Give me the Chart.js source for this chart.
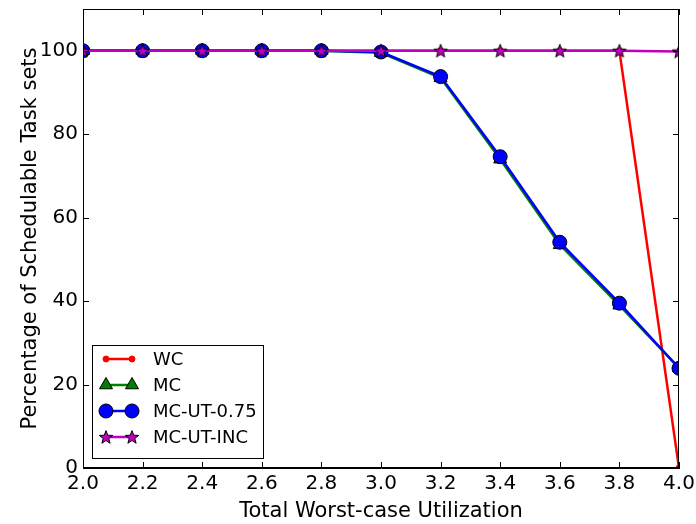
<!DOCTYPE html>
<html>
<head>
<meta charset="utf-8">
<script src="https://cdn.jsdelivr.net/npm/chart.js@4"></script>
<style>
html,body{margin:0;padding:0;background:#fff}
#wrap{width:696px;height:524px}
</style>
</head>
<body>
<div id="wrap"><canvas id="schedChart" width="696" height="524"></canvas></div>
<script>
// utilization values on the x axis
const utilization = [2.0, 2.2, 2.4, 2.6, 2.8, 3.0, 3.2, 3.4, 3.6, 3.8, 4.0]

// percentage of schedulable task sets
const wcData    = [100, 100, 100, 100, 100, 100, 100, 100, 100, 100, 0]
const mcData    = [100, 100, 100, 100, 100, 99.5, 93.5, 74.0, 53.5, 39.0, 24.0]
const mcUt75    = [100, 100, 100, 100, 100, 99.7, 93.8, 74.6, 54.1, 39.5, 23.9]
const mcUtInc   = [100, 100, 100, 100, 100, 100, 100, 100, 100, 100, 99.8]

const xTicks = [2.0, 2.2, 2.4, 2.6, 2.8, 3.0, 3.2, 3.4, 3.6, 3.8, 4.0]
const yTicks = [0, 20, 40, 60, 80, 100]

const FONT = 'DejaVu Sans'

// five pointed star marker (chart.js 'star' is not filled)
function makeStar(size, fill){
const c = document.createElement('canvas')
c.width = size
c.height = size
const g = c.getContext('2d')
const cx = size/2, cy = size/2 + 0.6
const ro = size/2 - 1, ri = ro*0.42
g.beginPath()
for(let i=0;i<10;i++){
const r = i%2 ? ri : ro
const a = -Math.PI/2 + i*Math.PI/5
g.lineTo(cx + r*Math.cos(a), cy + r*Math.sin(a))
}
g.closePath()
g.fillStyle = fill
g.fill()
g.lineWidth = 1
g.strokeStyle = '#000'
g.stroke()
return c
}
const star = makeStar(16, '#bf00bf')

const pts = arr => arr.map((v,i)=>({x:utilization[i], y:v}))

const series = [
{label:'WC', data:pts(wcData), borderColor:'#ff0000', backgroundColor:'#ff0000',
 pointStyle:'circle', pointRadius:3, pointBorderColor:'#ff0000', order:4},
{label:'MC', data:pts(mcData), borderColor:'#008000', backgroundColor:'#008000',
 pointStyle:'triangle', pointRadius:7.5, pointBorderColor:'#000', order:3},
{label:'MC-UT-0.75', data:pts(mcUt75), borderColor:'#0000ff', backgroundColor:'#0000ff',
 pointStyle:'circle', pointRadius:7, pointBorderColor:'#000', order:2},
{label:'MC-UT-INC', data:pts(mcUtInc), borderColor:'#bf00bf', backgroundColor:'#bf00bf',
 pointStyle:star, pointRadius:8, pointBorderColor:'#000', order:1}
]

// frame + inward ticks on all four sides, legend box inside plot
const framePlugin = {
id:'frame',
afterDraw(chart){
const {ctx, chartArea:a, scales} = chart
const L = 6
ctx.save()
ctx.strokeStyle = '#000'
ctx.lineWidth = 1
ctx.strokeRect(a.left+0.5, a.top+0.5, a.right-a.left-1, a.bottom-a.top-1)
ctx.beginPath()
xTicks.forEach(v=>{
const x = Math.round(scales.x.getPixelForValue(v))+0.5
ctx.moveTo(x, a.bottom); ctx.lineTo(x, a.bottom-L)
ctx.moveTo(x, a.top); ctx.lineTo(x, a.top+L)
})
yTicks.forEach(v=>{
const y = Math.round(scales.y.getPixelForValue(v))+0.5
ctx.moveTo(a.left, y); ctx.lineTo(a.left+L, y)
ctx.moveTo(a.right, y); ctx.lineTo(a.right-L, y)
})
ctx.stroke()

// legend
const bx = a.left+9, by = 345, bw = 171, bh = 113
ctx.fillStyle = '#fff'
ctx.fillRect(bx, by, bw, bh)
ctx.strokeRect(bx+0.5, by+0.5, bw, bh)
ctx.font = '18px ' + FONT
ctx.textBaseline = 'middle'
series.forEach((s,i)=>{
const y = by + 14 + i*26
const x1 = bx + 14, x2 = bx + 40
ctx.strokeStyle = s.borderColor
ctx.lineWidth = 2.5
ctx.beginPath(); ctx.moveTo(x1,y); ctx.lineTo(x2,y); ctx.stroke()
const opt = {pointStyle:s.pointStyle, radius:s.pointRadius, borderWidth:1, rotation:0}
ctx.fillStyle = s.backgroundColor
ctx.strokeStyle = s.pointBorderColor
ctx.lineWidth = 1
Chart.helpers.drawPoint(ctx, opt, x1, y)
ctx.fillStyle = s.backgroundColor
ctx.strokeStyle = s.pointBorderColor
Chart.helpers.drawPoint(ctx, opt, x2, y)
ctx.fillStyle = '#000'
ctx.fillText(s.label, bx + 61, y+1)
})
ctx.restore()
}
}

new Chart(document.getElementById('schedChart'),{
type:'line',
data:{
datasets:series.map(s=>Object.assign({
borderWidth:2.5,
pointBorderWidth:1,
pointHoverRadius:s.pointRadius,
tension:0,
fill:false
}, s))
},
options:{
responsive:false,
animation:false,
devicePixelRatio:1,
layout:{padding:{top:8,right:17,left:0,bottom:0}},
plugins:{
legend:{display:false},
tooltip:{enabled:false}
},
scales:{
x:{
type:'linear',
min:2.0,
max:4.0,
afterBuildTicks:s=>{s.ticks = xTicks.map(v=>({value:v}))},
afterFit:s=>{s.height = 56; s.paddingLeft = 0; s.paddingRight = 0},
grid:{display:false, drawTicks:false},
border:{display:true, color:'#000'},
ticks:{
color:'#000',
font:{family:FONT, size:20},
padding:4,
maxRotation:0,
autoSkip:false,
callback:v=>v.toFixed(1)
},
title:{
display:true,
text:'Total Worst-case Utilization',
color:'#000',
font:{family:FONT, size:21},
padding:{top:0,bottom:0}
}
},
y:{
min:0,
max:110,
afterBuildTicks:s=>{s.ticks = yTicks.map(v=>({value:v}))},
afterFit:s=>{s.width = 83; s.paddingTop = 0; s.paddingBottom = 0},
grid:{display:false, drawTicks:false},
border:{display:true, color:'#000'},
ticks:{
color:'#000',
font:{family:FONT, size:20},
padding:5
},
title:{
display:true,
text:'Percentage of Schedulable Task sets',
color:'#000',
font:{family:FONT, size:21},
padding:{top:18,bottom:0}
}
}
}
},
plugins:[framePlugin]
})
</script>
</body>
</html>
